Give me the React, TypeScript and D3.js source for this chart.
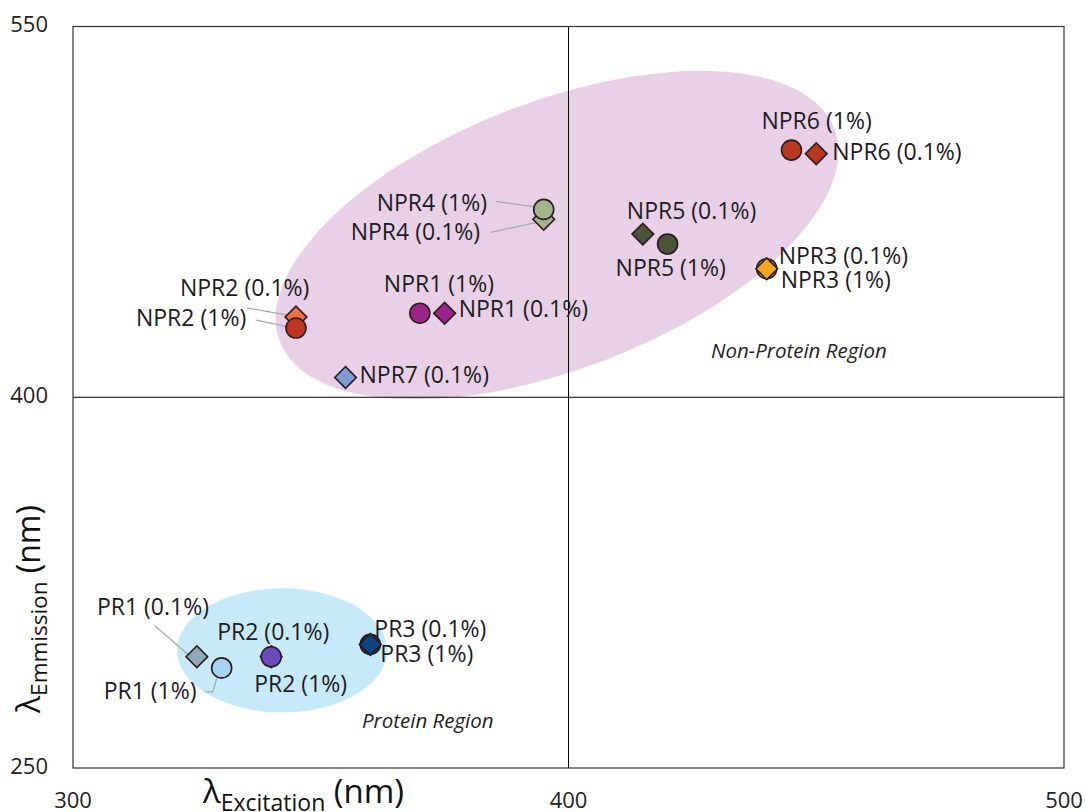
import React from 'react';
import * as d3 from 'd3';

// sample names, in drawing order (later ones sit on top)
const names = [
  'NPR6 (1%)', 'NPR6 (0.1%)',
  'NPR4 (0.1%)', 'NPR4 (1%)',
  'NPR5 (0.1%)', 'NPR5 (1%)',
  'NPR3 (1%)', 'NPR3 (0.1%)',
  'NPR1 (1%)', 'NPR1 (0.1%)',
  'NPR2 (0.1%)', 'NPR2 (1%)',
  'NPR7 (0.1%)',
  'PR1 (0.1%)', 'PR1 (1%)',
  'PR2 (0.1%)', 'PR2 (1%)',
  'PR3 (1%)', 'PR3 (0.1%)',
];
const excitation = [445, 450, 395, 395, 415, 420, 440, 440, 370, 375, 345, 345, 355, 325, 330, 340, 340, 360, 360];
const emission = [500, 498.5, 472, 476, 466, 462, 452, 452, 434, 434, 432.5, 428, 408, 295, 290.5, 295, 295, 300, 300];
const shapes = ['circle', 'diamond', 'diamond', 'circle', 'diamond', 'circle', 'circle', 'diamond', 'circle', 'diamond',
  'diamond', 'circle', 'diamond', 'diamond', 'circle', 'diamond', 'circle', 'circle', 'diamond'];
const fills = ['#b8391f', '#b8391f', '#a3b38a', '#a5b58b', '#4b5339', '#4b5339', '#f2a71c', '#f2a71c', '#9c2387', '#9c2387',
  '#ea7140', '#bf3520', '#7f9bd4', '#8eaab7', '#a6d3f1', '#6a4cc0', '#6a4cc0', '#0e4480', '#0e4480'];

// label offsets from the marker (px), text starts at the offset
const labelDx = [-30, 16, -193, -167, -16, -52, 14, 12, -36, 14, -116, -160, 14, -100, -118, -54, -17, 10, 4];
const labelDy = [-27, 0, 15, -5, -21, 26, 13, -11, -27, -2, -27, -8, -1, -48, 25, -23, 29, 11, -14];

// leader lines: sample index, then points as px offsets from that marker
const leaders = [
  { i: 3, pts: [[-48, -8], [-5, -2]] },
  { i: 2, pts: [[-53, 13], [-7, 3]] },
  { i: 10, pts: [[-49, -9], [-4, -1]] },
  { i: 11, pts: [[-40, -8], [-2, 0]] },
  { i: 13, pts: [[-42, -31], [-5, 1]] },
  { i: 14, pts: [[-17, 24], [-9, 24], [-4, 8]] },
  { i: 15, pts: [[1, -12], [-2, -2]] },
];

const xTicks = [300, 400, 500];
const yTicks = [250, 400, 550];

// region shading (centre in data units)
const regions = [
  { name: 'Non-Protein Region', cx: 397.7, cy: 465.6, rx: 297, ry: 134, rot: -21, fill: '#e8d1e6', lx: 711, ly: 353 },
  { name: 'Protein Region', cx: 342.2, cy: 297.6, rx: 105, ry: 62, rot: 0, fill: '#c6eaf9', lx: 362, ly: 723 },
];

const W = 1086, H = 812;
const margin = { top: 26.5, right: 22, bottom: 44, left: 73 };
const font = '"Open Sans", "Noto Sans", sans-serif';

export default function App() {
  const x = d3.scaleLinear().domain([300, 500]).range([margin.left, W - margin.right]);
  const y = d3.scaleLinear().domain([250, 550]).range([H - margin.bottom, margin.top]);
  const diamond = d3.symbol().type(d3.symbolSquare).size(235)();

  return (
    <svg width={W} height={H} style={{ position: 'absolute', left: 0, top: 0, background: '#fff' }}
      fontFamily={font}>
      {regions.map((r) => (
        <ellipse key={r.name} cx={x(r.cx)} cy={y(r.cy)} rx={r.rx} ry={r.ry} fill={r.fill}
          transform={`rotate(${r.rot} ${x(r.cx)} ${y(r.cy)})`} />
      ))}
      {regions.map((r) => (
        <text key={r.name + 't'} x={r.lx} y={r.ly} fontSize={20.5} fontStyle="italic" fill="#222"
          dominantBaseline="middle">{r.name}</text>
      ))}

      {/* quadrant lines */}
      <line x1={x(400)} x2={x(400)} y1={y(250)} y2={y(550)} stroke="#000" strokeWidth={1} />
      <line x1={x(300)} x2={x(500)} y1={y(400)} y2={y(400)} stroke="#000" strokeWidth={1} />
      <rect x={x(300)} y={y(550)} width={x(500) - x(300)} height={y(250) - y(550)} fill="none"
        stroke="#333" strokeWidth={1.2} />

      {yTicks.map((t) => (
        <text key={'y' + t} x={48} y={y(t)} textAnchor="end" dominantBaseline="middle" fontSize={22} fill="#222">{t}</text>
      ))}
      {xTicks.map((t) => (
        <text key={'x' + t} x={x(t)} y={808} textAnchor="middle" fontSize={22} fill="#222">{t}</text>
      ))}

      {/* axis titles */}
      <text x={203} y={803} fontSize={33} fill="#111">
        λ<tspan fontSize={23} dy={8}>Excitation</tspan><tspan dy={-8}> (nm)</tspan>
      </text>
      <text transform="translate(40,713) rotate(-90)" fontSize={32} fill="#111">
        λ<tspan fontSize={22.5} dy={7}>Emmission</tspan><tspan dy={-7}> (nm)</tspan>
      </text>

      {leaders.map((l, k) => {
        const px = x(excitation[l.i]), py = y(emission[l.i]);
        return (
          <polyline key={'l' + k} points={l.pts.map((p) => `${px + p[0]},${py + p[1]}`).join(' ')}
            fill="none" stroke="#a8a8a8" strokeWidth={1.2} />
        );
      })}

      {names.map((n, i) => {
        const px = x(excitation[i]), py = y(emission[i]);
        return shapes[i] === 'circle'
          ? <circle key={n} cx={px} cy={py} r={10} fill={fills[i]} stroke="#2a1a20" strokeWidth={1.6} />
          : <path key={n} d={diamond} transform={`translate(${px},${py}) rotate(45)`} fill={fills[i]}
              stroke="#2a1a20" strokeWidth={1.6} />;
      })}

      {names.map((n, i) => (
        <text key={n + 'lab'} x={x(excitation[i]) + labelDx[i]} y={y(emission[i]) + labelDy[i]}
          dominantBaseline="middle" fontSize={23} fill="#1e1a1e">{n}</text>
      ))}
    </svg>
  );
}
